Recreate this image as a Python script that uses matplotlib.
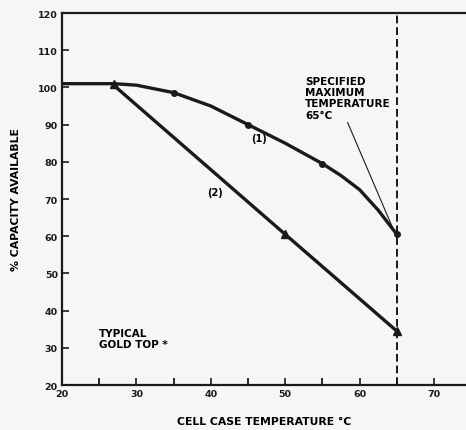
import matplotlib
matplotlib.use("Agg")
import matplotlib.pyplot as plt

# curve (1)
temp_1 = [20, 27, 30, 35, 40, 45, 50, 55, 57.5, 60, 62.5, 65]
cap_1 = [101, 101, 100.6, 98.6, 95.0, 90, 85.0, 79.5, 76.3, 72.5, 67.0, 60.5]
# curve (2)
temp_2 = [27, 50, 65]
cap_2 = [100.5, 60.5, 34.5]

x_ticks = [20, 30, 40, 50, 60, 70]
y_ticks = [20, 30, 40, 50, 60, 70, 80, 90, 100, 110, 120]
x_minor = [25, 35, 45, 55, 65]
max_temp = 65

plt.rcParams['font.family'] = ['DejaVu Sans']
plt.rcParams['font.weight'] = 'bold'

fig = plt.figure(figsize=(4.66, 4.31), dpi=100, facecolor='#f6f6f4')
ax = fig.add_axes([0.133, 0.1044, 0.867, 0.8631], facecolor='#f6f6f4')

ax.plot(temp_1, cap_1, color='#1a1a1a', lw=2.4, solid_capstyle='round', solid_joinstyle='round')
ax.plot(temp_2, cap_2, color='#1a1a1a', lw=2.4, solid_capstyle='round')
# markers
ax.plot([27, 50, 65], [101, 60.5, 34.5], '^', color='#1a1a1a', ms=6)
ax.plot([35, 45, 55, 65], [98.6, 90, 79.5, 60.5], 'o', color='#1a1a1a', ms=4)

ax.axvline(max_temp, color='#1a1a1a', lw=1.4, ls=(0, (4, 2)))

ax.set_xlim(20, 74.3)
ax.set_ylim(20, 120)
ax.set_xticks(x_ticks)
ax.set_xticks(x_minor, minor=True)
ax.set_yticks(y_ticks)
ax.tick_params(direction='in', length=5, width=1.2, labelsize=6.8, pad=3, colors='#1a1a1a')
ax.tick_params(which='minor', direction='in', length=5, width=1.2)
for lab in ax.get_xticklabels() + ax.get_yticklabels():
    lab.set_fontweight('bold')

for s in ['left', 'bottom', 'top']:
    ax.spines[s].set_linewidth(1.6)
    ax.spines[s].set_color('#1a1a1a')
ax.spines['right'].set_visible(False)

ax.set_xlabel('CELL CASE TEMPERATURE °C', fontsize=7.8, fontweight='bold', labelpad=13)
ax.set_ylabel('% CAPACITY AVAILABLE', fontsize=7.8, fontweight='bold', labelpad=12)

ax.text(46.5, 86.5, '(1)', fontsize=7, fontweight='bold', ha='center', va='center')
ax.text(40.5, 72, '(2)', fontsize=7, fontweight='bold', ha='center', va='center')
ax.text(25.0, 32.6, 'TYPICAL\nGOLD TOP *', fontsize=7.5, fontweight='bold',
        ha='left', va='center', linespacing=1.1)
ax.annotate('SPECIFIED\nMAXIMUM\nTEMPERATURE\n65°C', xy=(64.6, 61.5), xytext=(52.7, 97.2),
            fontsize=7.5, fontweight='bold', ha='left', va='center', linespacing=1.15,
            arrowprops=dict(arrowstyle='-', color='#1a1a1a', lw=0.8, shrinkA=0,
                            relpos=(0.48, 0)))

fig.savefig('out.png', dpi=100, facecolor=fig.get_facecolor())
